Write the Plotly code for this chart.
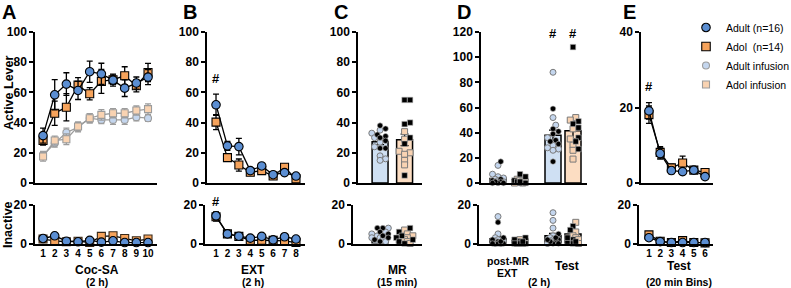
import plotly.graph_objects as go

W, H = 791, 288
FONT = "Liberation Sans, Arial, Helvetica, sans-serif"

# ---------------- DATA ----------------
coc_sessions = [1, 2, 3, 4, 5, 6, 7, 8, 9, 10]
adult_cocsa = [31.4, 58.4, 65.5, 61.3, 73.7, 72.3, 68.1, 62.8, 66.2, 70.1]
adult_cocsa_sem = [5, 10, 7.5, 6, 7, 7, 4, 5.5, 4, 5]
adol_cocsa = [28.1, 46.2, 50.2, 64.8, 59.1, 67.3, 68.4, 71.0, 64.4, 73.2]
adol_cocsa_sem = [3, 8, 9, 5, 4, 8, 3, 6, 4, 6]
adult_inf_cocsa = [18.4, 26.3, 33.4, 36.9, 42.9, 41.8, 41.8, 41.8, 43.6, 42.9]
adult_inf_cocsa_sem = [2.5, 2.5, 3, 3, 3, 2.5, 3, 3, 2.5, 2]
adol_inf_cocsa = [17.5, 28.1, 29.0, 37.4, 42.9, 45.1, 46.2, 46.2, 48.0, 48.9]
adol_inf_cocsa_sem = [3, 3, 3.5, 3, 3, 3.5, 3, 3, 3, 3.5]
adult_cocsa_inact = [2.6, 4.0, 1.2, 0.9, 1.6, 0.7, 1.4, 0.5, 0.5, 0.5]
adol_cocsa_inact = [2.3, 1.4, 0.9, 1.2, 0.5, 3.7, 4.0, 2.6, 1.4, 2.3]

ext_sessions = [1, 2, 3, 4, 5, 6, 7, 8]
adult_ext = [51.8, 24.6, 24.1, 8.2, 11.3, 5.5, 6.9, 4.6]
adult_ext_sem = [7, 3, 5.5, 1.5, 1.5, 1, 1.5, 1]
adol_ext = [40.3, 16.8, 11.9, 7.1, 8.2, 4.6, 10.4, 2.7]
adol_ext_sem = [5, 2.5, 4, 1.5, 1.5, 1, 2, 1]
adult_ext_inact = [14.4, 5.0, 3.8, 2.8, 3.7, 1.9, 3.5, 2.3]
adult_ext_inact_sem = [2, 0.8, 0.6, 0.5, 0.6, 0.4, 0.5, 0.4]
adol_ext_inact = [13.9, 5.0, 3.7, 1.7, 1.7, 1.7, 1.4, 0.5]
adol_ext_inact_sem = [2.3, 0.8, 0.6, 0.4, 0.4, 0.4, 0.4, 0.3]

bin_labels = [1, 2, 3, 4, 5, 6]
adult_bins = [19.1, 7.8, 3.3, 3.0, 3.4, 1.7]
adult_bins_sem = [2.2, 1.5, 0.8, 0.6, 0.6, 0.4]
adol_bins = [18.1, 8.1, 4.0, 5.3, 3.4, 2.8]
adol_bins_sem = [2.3, 1.5, 1.0, 1.8, 0.7, 0.6]
adult_bins_inact = [3.0, 1.0, 0.5, 0.5, 0.5, 0.5]
adol_bins_inact = [4.5, 1.2, 0.5, 1.5, 0.5, 0.3]

# MR (15 min)
mr_means = [27.4, 28.6]
mr_sem = [2.0, 3.8]
mr_inact_means = [4.5, 3.5]
mr_inact_sem = [0.6, 0.7]
adult_mr_black = [38, 36, 32, 31, 30, 28, 23, 23]
adult_mr_light = [35, 33, 30, 27, 24, 18, 16, 15]
adol_mr_black = [55, 55, 40, 39, 30, 26, 5]
adol_mr_light = [34, 29, 21, 20, 19, 15, 12]
adult_mr_inact_black = [8, 8, 6, 5, 4, 3, 2, 1]
adult_mr_inact_light = [8, 6, 5, 4, 3, 3, 2, 1]
adol_mr_inact_black = [8, 6, 4, 3, 2, 1, 0]
adol_mr_inact_light = [7, 5, 4, 3, 2, 1, 0]

# post-MR EXT / Test (2 h): order adult post, adol post, adult test, adol test
d_means = [3.5, 2.5, 38.0, 41.6]
d_sem = [1.2, 0.7, 4.0, 6.5]
d_inact_means = [2.5, 1.5, 4.0, 5.0]
d_inact_sem = [1.0, 0.4, 1.2, 1.0]
adult_post_black = [17, 3, 2, 1, 0, 0, 1, 0]
adult_post_light = [14, 7, 5, 4, 3, 2, 1, 1]
adol_post_black = [7, 5, 2, 1, 0, 0, 1]
adol_post_light = [3, 2, 2, 1, 0, 1, 0]
adult_test_black = [59, 43, 41, 39, 34, 33, 31, 17]
adult_test_light = [88, 52, 46, 36, 30, 28, 27, 26]
adol_test_black = [108, 49, 47, 44, 36, 33, 27]
adol_test_light = [52, 50, 43, 35, 30, 26, 19]
adult_post_inact_black = [11, 3, 1, 0, 0, 1, 2, 0]
adult_post_inact_light = [14, 5, 3, 2, 1, 1, 0, 0]
adol_post_inact_black = [3, 1, 0, 2, 0, 1, 0]
adol_post_inact_light = [2, 1, 0, 0, 1, 0, 0]
adult_test_inact_black = [5, 2, 1, 0, 3, 1, 0, 2]
adult_test_inact_light = [16, 12, 8, 4, 3, 2, 1, 0]
adol_test_inact_black = [9, 7, 2, 1, 0, 3, 1]
adol_test_inact_light = [11, 6, 4, 3, 2, 1, 0]

legend_names = ["Adult (n=16)", "Adol\u00a0 (n=14)", "Adult infusion", "Adol infusion"]

# ---------------- STYLE / LAYOUT CONSTANTS ----------------
BLUE = "#5B8ED2"
ORANGE = "#F6A35B"
LBLUE = "#C4D6EE"
LORANGE = "#F9D3B2"
GREY = "#9C9C9C"
BAR_BLUE = "#CFE0F3"
BAR_ORANGE = "#FCDDC2"

C_POS = [0, 1]
D_POS = [0.85, 1.95, 3.6, 4.6]


def px_x(p):
    return p / W


def px_y(p):
    return 1 - p / H


TOP = [px_y(183), px_y(32)]
BOT = [px_y(243.5), px_y(205)]
PPY_TOP100 = 151 / 100
PPY_TOP120 = 151 / 120
PPY_BOT = 38.5 / 20

layout = dict(
    width=W, height=H,
    margin=dict(l=0, r=0, t=0, b=0, autoexpand=False),
    paper_bgcolor="white", plot_bgcolor="rgba(0,0,0,0)",
    showlegend=True,
    legend=dict(x=px_x(686), y=px_y(13), xanchor="left", yanchor="top",
                font=dict(family=FONT, size=10.5, color="black"),
                bgcolor="rgba(0,0,0,0)", borderwidth=0, tracegroupgap=0),
    font=dict(family=FONT, color="black"),
)


def add_axes(i, xpx, ydom, xrange, yrange, ytickvals, xtickvals=None):
    xa = dict(domain=[px_x(xpx[0]), px_x(xpx[1])], range=xrange, anchor="y%d" % i,
              showline=True, linecolor="black", linewidth=1.5, ticks="",
              showgrid=False, zeroline=False, fixedrange=True,
              showticklabels=xtickvals is not None)
    if xtickvals is not None:
        xa.update(tickmode="array", tickvals=xtickvals,
                  ticktext=["<b>%s</b>" % v for v in xtickvals],
                  tickfont=dict(family=FONT, size=10, color="black"))
    ya = dict(domain=ydom, range=yrange, anchor="x%d" % i,
              showline=True, linecolor="black", linewidth=1.5,
              ticks="outside", ticklen=4, tickwidth=1.5, tickcolor="black",
              tickmode="array", tickvals=ytickvals,
              ticktext=["<b>%s</b>" % v for v in ytickvals],
              showgrid=False, zeroline=False, fixedrange=True,
              tickfont=dict(family=FONT, size=12, color="black"))
    key = "" if i == 1 else str(i)
    layout["xaxis" + key] = xa
    layout["yaxis" + key] = ya


# top panels
add_axes(1, (35, 157), TOP, [0.31, 10.77], [0, 100], [0, 20, 40, 60, 80, 100])
add_axes(2, (207, 305), TOP, [0.21, 8.79], [0, 100], [0, 20, 40, 60, 80, 100])
add_axes(3, (358, 422), TOP, [-0.9, 1.71], [0, 100], [0, 20, 40, 60, 80, 100])
add_axes(4, (481, 587), TOP, [0, 5.3], [0, 120], [0, 20, 40, 60, 80, 100, 120])
add_axes(5, (641, 713), TOP, [0.29, 6.71], [0, 40], [0, 20, 40])
# bottom panels
add_axes(6, (35, 157), BOT, [0.31, 10.77], [0, 20], [0, 20], coc_sessions)
add_axes(7, (205, 305), BOT, [0.21 - 2 / 11.43, 8.79], [0, 20], [0, 20], ext_sessions)
add_axes(8, (353, 422), BOT, [-0.9 - 5 / 24.5, 1.71], [0, 20], [0, 20])
add_axes(9, (479, 587), BOT, [-2 / 20, 5.3], [0, 20], [0, 20])
add_axes(10, (639, 713), BOT, [0.29 - 2 / 11.2, 6.71], [0, 20], [0, 20], bin_labels)


def axn(i):
    return ("x" if i == 1 else "x%d" % i), ("y" if i == 1 else "y%d" % i)


traces = []


def line_trace(i, x, y, sem, symbol, fill, edge, lcolor, size):
    xa, ya = axn(i)
    tr = go.Scatter(
        x=x, y=y, xaxis=xa, yaxis=ya, mode="lines+markers",
        line=dict(color=lcolor, width=1.3),
        marker=dict(symbol=symbol, size=size, color=fill, line=dict(color=edge, width=1.1)),
        cliponaxis=False, showlegend=False, hoverinfo="skip")
    if sem is not None:
        tr.error_y = dict(type="data", array=sem, visible=True, color=lcolor, thickness=1.3, width=3)
    traces.append(tr)


# A top
line_trace(1, coc_sessions, adult_inf_cocsa, adult_inf_cocsa_sem, "circle", LBLUE, GREY, GREY, 7)
line_trace(1, coc_sessions, adol_inf_cocsa, adol_inf_cocsa_sem, "square", LORANGE, GREY, GREY, 7)
line_trace(1, coc_sessions, adol_cocsa, adol_cocsa_sem, "square", ORANGE, "black", "black", 8)
line_trace(1, coc_sessions, adult_cocsa, adult_cocsa_sem, "circle", BLUE, "black", "black", 8.5)
# A bottom
line_trace(6, coc_sessions, adol_cocsa_inact, None, "square", ORANGE, "#3a2a1a", "black", 8)
line_trace(6, coc_sessions, adult_cocsa_inact, None, "circle", BLUE, "black", "black", 8.5)
# B
line_trace(2, ext_sessions, adol_ext, adol_ext_sem, "square", ORANGE, "black", "black", 8)
line_trace(2, ext_sessions, adult_ext, adult_ext_sem, "circle", BLUE, "black", "black", 8.5)
line_trace(7, ext_sessions, adol_ext_inact, adol_ext_inact_sem, "square", ORANGE, "black", "black", 8)
line_trace(7, ext_sessions, adult_ext_inact, adult_ext_inact_sem, "circle", BLUE, "black", "black", 8.5)
# E
line_trace(5, bin_labels, adol_bins, adol_bins_sem, "square", ORANGE, "black", "black", 8)
line_trace(5, bin_labels, adult_bins, adult_bins_sem, "circle", BLUE, "black", "black", 8.5)
line_trace(10, bin_labels, adol_bins_inact, None, "square", ORANGE, "black", "black", 8)
line_trace(10, bin_labels, adult_bins_inact, None, "circle", BLUE, "black", "black", 8.5)


def bar_trace(i, pos, means, sem, colors, width):
    xa, ya = axn(i)
    traces.append(go.Bar(
        x=pos, y=means, xaxis=xa, yaxis=ya, width=width,
        marker=dict(color=colors, line=dict(color="black", width=1.5)),
        error_y=dict(type="data", array=sem, visible=True, color="black", thickness=1.3, width=4),
        cliponaxis=False, showlegend=False, hoverinfo="skip"))


def swarm(values, ppx, ppy, diam, half_px):
    order = sorted(range(len(values)), key=lambda k: (values[k], k))
    placed = []
    offs = [0.0] * len(values)
    step = diam * 0.5
    cands = [0.0]
    k = 1
    while k * step <= half_px + 1e-9:
        cands += [k * step, -k * step]
        k += 1
    for idx in order:
        yy = values[idx] * ppy
        best, bestd = 0.0, -1.0
        for c in cands:
            d = min([((c - a) ** 2 + (yy - b) ** 2) ** 0.5 for a, b in placed], default=1e9)
            if d >= diam * 0.8:
                best = c
                break
            if d > bestd:
                best, bestd = c, d
        placed.append((best, yy))
        offs[idx] = best / ppx
    return offs


def dots(i, center, black_vals, light_vals, symbol, light_fill, ppx, ppy, half_px=9):
    xa, ya = axn(i)
    vals = list(black_vals) + list(light_vals)
    offs = swarm(vals, ppx, ppy, 5.5, half_px)
    nb = len(black_vals)
    xb = [center + o for o in offs[:nb]]
    xl = [center + o for o in offs[nb:]]
    traces.append(go.Scatter(x=xl, y=light_vals, xaxis=xa, yaxis=ya, mode="markers",
                             marker=dict(symbol=symbol, size=6, color=light_fill,
                                         line=dict(color="#7a7a7a", width=1)),
                             cliponaxis=False, showlegend=False, hoverinfo="skip"))
    traces.append(go.Scatter(x=xb, y=black_vals, xaxis=xa, yaxis=ya, mode="markers",
                             marker=dict(symbol=symbol, size=5.5, color="black",
                                         line=dict(color="#bdbdbd", width=0.6)),
                             cliponaxis=False, showlegend=False, hoverinfo="skip"))


# C
bar_trace(3, C_POS, mr_means, mr_sem, [BAR_BLUE, BAR_ORANGE], 0.65)
dots(3, C_POS[0], adult_mr_black, adult_mr_light, "circle", LBLUE, 24.5, PPY_TOP100)
dots(3, C_POS[1], adol_mr_black, adol_mr_light, "square", LORANGE, 24.5, PPY_TOP100)
bar_trace(8, C_POS, mr_inact_means, mr_inact_sem, [BAR_BLUE, BAR_ORANGE], 0.65)
dots(8, C_POS[0], adult_mr_inact_black, adult_mr_inact_light, "circle", LBLUE, 24.5, PPY_BOT)
dots(8, C_POS[1], adol_mr_inact_black, adol_mr_inact_light, "square", LORANGE, 24.5, PPY_BOT)

# D
d_colors = [BAR_BLUE, BAR_ORANGE, BAR_BLUE, BAR_ORANGE]
bar_trace(4, D_POS, d_means, d_sem, d_colors, 0.8)
dots(4, D_POS[0], adult_post_black, adult_post_light, "circle", LBLUE, 20, PPY_TOP120, 7)
dots(4, D_POS[1], adol_post_black, adol_post_light, "square", LORANGE, 20, PPY_TOP120, 7)
dots(4, D_POS[2], adult_test_black, adult_test_light, "circle", LBLUE, 20, PPY_TOP120, 8)
dots(4, D_POS[3], adol_test_black, adol_test_light, "square", LORANGE, 20, PPY_TOP120, 8)
bar_trace(9, D_POS, d_inact_means, d_inact_sem, d_colors, 0.8)
dots(9, D_POS[0], adult_post_inact_black, adult_post_inact_light, "circle", LBLUE, 20, PPY_BOT, 7)
dots(9, D_POS[1], adol_post_inact_black, adol_post_inact_light, "square", LORANGE, 20, PPY_BOT, 7)
dots(9, D_POS[2], adult_test_inact_black, adult_test_inact_light, "circle", LBLUE, 20, PPY_BOT, 8)
dots(9, D_POS[3], adol_test_inact_black, adol_test_inact_light, "square", LORANGE, 20, PPY_BOT, 8)

# legend entries
leg_styles = [("circle", BLUE, "black", 8.5), ("square", ORANGE, "black", 8.5),
              ("circle", LBLUE, GREY, 7), ("square", LORANGE, GREY, 7)]
for name, (sym, fill, edge, size) in zip(legend_names, leg_styles):
    traces.append(go.Scatter(x=[None], y=[None], xaxis="x5", yaxis="y5", mode="markers", name=name,
                             marker=dict(symbol=sym, size=size, color=fill, line=dict(color=edge, width=1.1)),
                             showlegend=True, hoverinfo="skip"))

# ---------------- ANNOTATIONS ----------------
ann = []


def ptext(x, y, text, size, angle=0):
    ann.append(dict(x=px_x(x), y=px_y(y), xref="paper", yref="paper", text="<b>%s</b>" % text,
                    showarrow=False, xanchor="center", yanchor="middle", textangle=angle,
                    font=dict(family=FONT, size=size, color="black")))


for letter, lx in zip(["A", "B", "C", "D", "E"], [9, 190, 341, 464, 629]):
    ptext(lx, 12, letter, 20)
ptext(9, 93, "Active Lever", 12.5, angle=-90)
ptext(8, 225, "Inactive", 12.5, angle=-90)

ptext(97, 270, "Coc-SA", 12)
ptext(97, 282, "(2 h)", 10.5)
ptext(253, 270, "EXT", 12)
ptext(253, 282, "(2 h)", 10.5)
ptext(397, 270, "MR", 12)
ptext(397, 282, "(15 min)", 10.5)
ptext(508, 261, "post-MR", 10.5)
ptext(507, 273, "EXT", 10.5)
ptext(567, 266, "Test", 12)
ptext(539, 282, "(2 h)", 10.5)
ptext(679, 266, "Test", 12)
ptext(679, 282, "(20 min Bins)", 10.5)


def dtext(i, x, y, text):
    xa, ya = axn(i)
    ann.append(dict(x=x, y=y, xref=xa, yref=ya, text="<b>%s</b>" % text, showarrow=False,
                    xanchor="center", yanchor="middle",
                    font=dict(family=FONT, size=13, color="black")))


dtext(2, ext_sessions[0], 69, "#")
dtext(4, D_POS[2], 119, "#")
dtext(4, D_POS[3], 119, "#")
dtext(5, bin_labels[0], 25.5, "#")
ann.append(dict(x=ext_sessions[0], y=px_y(201), xref="x7", yref="paper", text="<b>#</b>", showarrow=False,
                xanchor="center", yanchor="middle",
                font=dict(family=FONT, size=13, color="black")))

layout["annotations"] = ann

fig = go.Figure(data=traces, layout=layout)
fig.write_html("out.html", config={"displayModeBar": False},
               post_script="document.body.style.margin='0px';document.body.style.overflow='hidden';")
